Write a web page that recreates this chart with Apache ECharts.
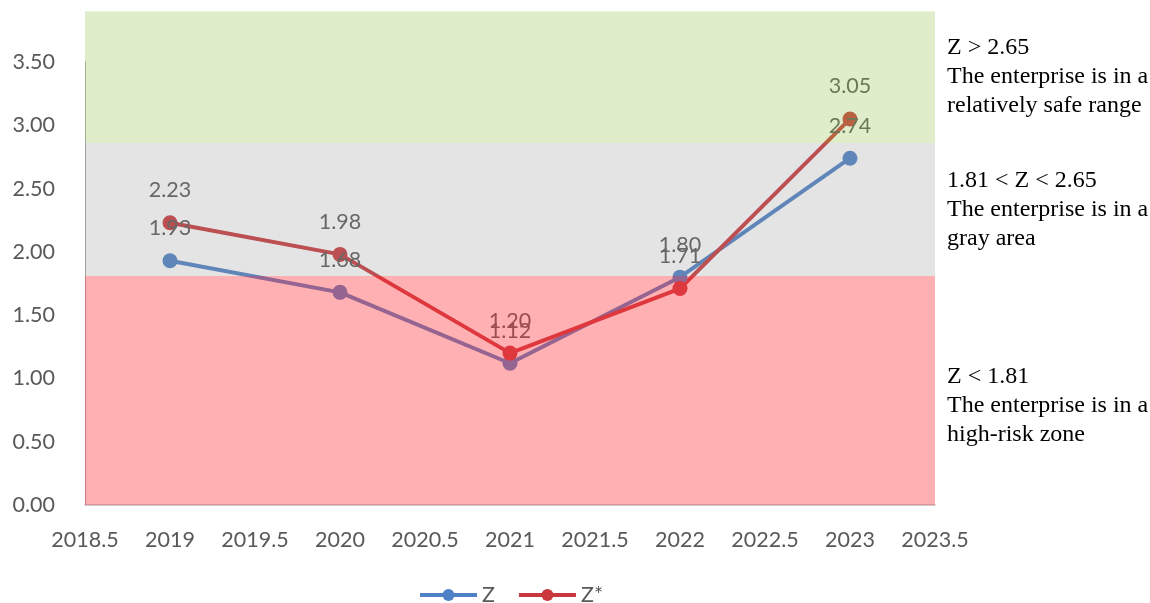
<!DOCTYPE html>
<html><head><meta charset="utf-8">
<script src="https://cdn.jsdelivr.net/npm/echarts@6/dist/echarts.min.js"></script>
<style>html,body{margin:0;padding:0;background:#fff}#c{width:1150px;height:603px}</style>
</head><body><div id="c"></div>
<script>
var years = [2019, 2020, 2021, 2022, 2023];
var zValues = [1.93, 1.68, 1.12, 1.80, 2.74];
var zStarValues = [2.23, 1.98, 1.20, 1.71, 3.05];
var bandLow = [0, 1.81, 2.86];
var bandHigh = [1.81, 2.86, 3.9];
var bandColors = ['rgba(255,57,65,0.4)', 'rgba(147,147,147,0.25)', 'rgba(148,195,82,0.3)'];
var xTicksMin = 2018.5, xTicksMax = 2023.5;
var noteTexts = [
  'Z > 2.65\nThe enterprise is in a\nrelatively safe range',
  '1.81 < Z < 2.65\nThe enterprise is in a\ngray area',
  'Z < 1.81\nThe enterprise is in a\nhigh-risk zone'
];

var chart = echarts.init(document.getElementById('c'));
var labelFont = 'Lato, "Liberation Sans", sans-serif';
var bands = bandLow.map(function (l, i) { return [xTicksMin, xTicksMax, l, bandHigh[i], i]; });

function pts(vals) { return years.map(function (y, i) { return [y, vals[i]]; }); }

chart.setOption({
  animation: false,
  grid: { left: 85, right: 215, top: 62, bottom: 98 },
  xAxis: {
    type: 'value', min: xTicksMin, max: xTicksMax, interval: 0.5,
    axisLine: { show: true, lineStyle: { color: '#bfbfbf', width: 1.5 } },
    axisTick: { show: false },
    splitLine: { show: false },
    axisLabel: { color: '#595959', fontSize: 21.5, fontFamily: labelFont, margin: 24,
      formatter: function (v) { return String(Math.round(v * 10) / 10); } }
  },
  yAxis: {
    type: 'value', min: 0, max: 3.5, interval: 0.5,
    axisLine: { show: true, lineStyle: { color: '#a6a6a6', width: 1 } },
    axisTick: { show: false },
    splitLine: { show: false },
    axisLabel: { color: '#595959', fontSize: 21.5, fontFamily: labelFont, margin: 30,
      formatter: function (v) { return v.toFixed(2); } }
  },
  legend: {
    data: ['Z', 'Z*'], left: 413, top: 579, itemWidth: 57, itemHeight: 15, itemGap: 22,
    lineStyle: { width: 4 },
    textStyle: { color: '#595959', fontSize: 21.5, fontFamily: labelFont }
  },
  series: [
    { name: 'Z', type: 'line', data: pts(zValues), z: 2,
      symbol: 'circle', symbolSize: 15,
      lineStyle: { width: 4, color: '#4f81c6' }, itemStyle: { color: '#4f81c6' },
      label: { show: true, position: 'top', distance: 14, color: '#595959', fontSize: 21.5, fontFamily: labelFont,
        formatter: function (p) { return p.value[1].toFixed(2); } } },
    { name: 'Z*', type: 'line', data: pts(zStarValues), z: 2,
      symbol: 'circle', symbolSize: 15,
      lineStyle: { width: 4, color: '#c8383c' }, itemStyle: { color: '#c8383c' },
      label: { show: true, position: 'top', distance: 14, color: '#595959', fontSize: 21.5, fontFamily: labelFont,
        formatter: function (p) { return p.value[1].toFixed(2); } } },
    { name: 'bands', type: 'custom', z: 10, silent: true, clip: false,
      data: bands, encode: { x: [0, 1], y: [2, 3] },
      renderItem: function (params, api) {
        var p0 = api.coord([api.value(0), api.value(3)]);
        var p1 = api.coord([api.value(1), api.value(2)]);
        return { type: 'rect', shape: { x: p0[0], y: p0[1], width: p1[0] - p0[0], height: p1[1] - p0[1] },
          style: { fill: bandColors[api.value(4)] } };
      } }
  ],
  graphic: [
    { type: 'text', left: 947, top: 33, style: { text: noteTexts[0], font: '24px "Liberation Serif", serif', fill: '#000', lineHeight: 29 } },
    { type: 'text', left: 947, top: 166, style: { text: noteTexts[1], font: '24px "Liberation Serif", serif', fill: '#000', lineHeight: 29 } },
    { type: 'text', left: 947, top: 362, style: { text: noteTexts[2], font: '24px "Liberation Serif", serif', fill: '#000', lineHeight: 29 } }
  ]
});
</script></body></html>
